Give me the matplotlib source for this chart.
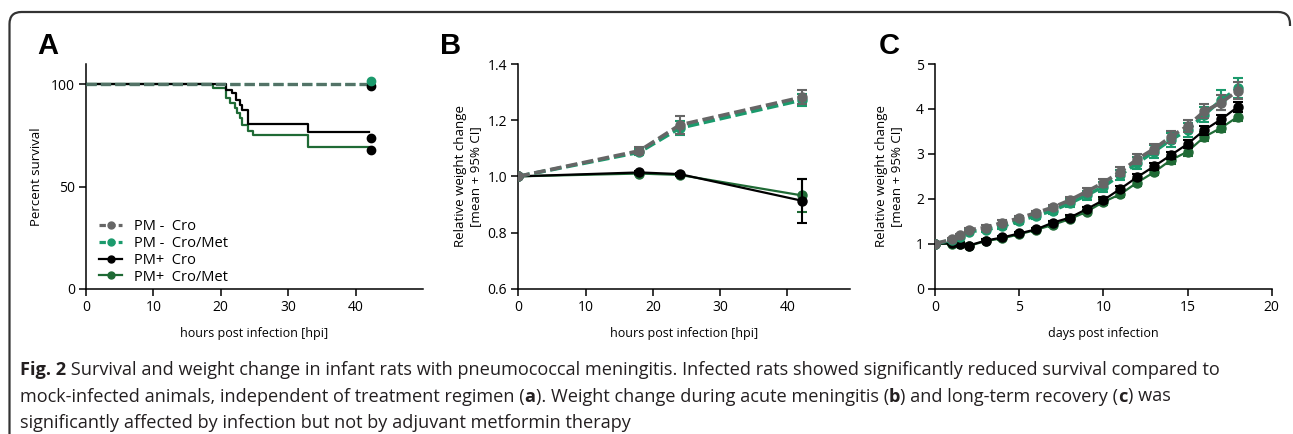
import matplotlib
matplotlib.use("Agg")
import matplotlib.pyplot as plt
from matplotlib.path import Path
from matplotlib.patches import PathPatch

plt.rcParams['font.family'] = ['Open Sans', 'DejaVu Sans']

GRAY = "#666666"
TEAL = "#1b9a6c"
DKGREEN = "#1f6a35"
BLACK = "#000000"

labels = ["PM -  Cro", "PM -  Cro/Met", "PM+  Cro", "PM+  Cro/Met"]

# panel A: survival (Kaplan-Meier steps)
surv_t_neg = [0, 42.0]
surv_neg = [100, 100]
surv_t_cro = [0, 20.8, 21.6, 22.2, 22.8, 23.2, 24.0, 32.9, 42.0]
surv_cro = [100, 97.1, 95.8, 92.2, 90.0, 87.3, 80.7, 76.5, 76.5]
surv_t_met = [0, 18.9, 20.8, 21.3, 22.1, 22.4, 22.8, 23.2, 24.0, 24.8, 32.9, 42.0]
surv_met = [100, 98.2, 93.3, 90.9, 88.4, 86.0, 83.5, 80.2, 77.0, 75.3, 69.6, 69.6]
end_x = [42.3, 42.3, 42.3, 42.3]
end_y = [99.0, 101.5, 73.7, 68.0]
end_col = [BLACK, TEAL, BLACK, BLACK]

# panel B: acute weight change
hpi = [0, 18, 24, 42.2]
b_neg_cro = [1.0, 1.091, 1.183, 1.282]
b_neg_cro_err = [0, 0.012, 0.032, 0.026]
b_neg_met = [1.0, 1.086, 1.172, 1.272]
b_neg_met_err = [0, 0.010, 0.025, 0.02]
b_pos_cro = [1.0, 1.014, 1.008, 0.913]
b_pos_cro_err = [0, 0.006, 0.005, 0.079]
b_pos_met = [1.0, 1.010, 1.005, 0.932]
b_pos_met_err = [0, 0.006, 0.005, 0.060]

# panel C: long-term weight change
days = [0, 1, 1.5, 2, 3, 4, 5, 6, 7, 8, 9, 10, 11, 12, 13, 14, 15, 16, 17, 18]
c_neg_cro = [1.0, 1.10, 1.19, 1.31, 1.36, 1.47, 1.57, 1.69, 1.81, 1.97, 2.16, 2.36,
             2.60, 2.88, 3.11, 3.38, 3.62, 3.95, 4.14, 4.41]
c_neg_cro_err = [0, 0.03, 0.03, 0.03, 0.05, 0.05, 0.05, 0.05, 0.06, 0.07, 0.08, 0.09,
                 0.10, 0.11, 0.12, 0.13, 0.14, 0.15, 0.16, 0.18]
c_neg_met = [1.0, 1.08, 1.16, 1.27, 1.31, 1.39, 1.51, 1.62, 1.74, 1.90, 2.08, 2.27,
             2.53, 2.79, 3.05, 3.31, 3.53, 3.87, 4.20, 4.46]
c_neg_met_err = [0, 0.03, 0.03, 0.03, 0.05, 0.06, 0.06, 0.07, 0.08, 0.09, 0.10, 0.11,
                 0.12, 0.13, 0.14, 0.15, 0.16, 0.17, 0.22, 0.22]
c_pos_cro = [1.0, 1.01, 1.00, 0.96, 1.07, 1.14, 1.23, 1.32, 1.47, 1.58, 1.77, 1.97,
             2.22, 2.48, 2.72, 2.97, 3.22, 3.53, 3.77, 4.05]
c_pos_cro_err = [0, 0.02, 0.02, 0.02, 0.03, 0.03, 0.04, 0.04, 0.04, 0.05, 0.05, 0.06,
                 0.06, 0.07, 0.07, 0.08, 0.09, 0.10, 0.10, 0.11]
c_pos_met = [1.0, 1.00, 0.99, 0.95, 1.06, 1.12, 1.21, 1.31, 1.42, 1.55, 1.71, 1.93,
             2.10, 2.36, 2.59, 2.86, 3.05, 3.38, 3.58, 3.83]
c_pos_met_err = [0, 0.02, 0.02, 0.02, 0.03, 0.03, 0.04, 0.04, 0.04, 0.05, 0.05, 0.06,
                 0.06, 0.07, 0.07, 0.08, 0.09, 0.10, 0.10, 0.10]

fig = plt.figure(figsize=(12.93, 4.34), dpi=100)
W, H = 1293, 434


def add_ax(l, t, r, b):
    return fig.add_axes([l / W, 1 - b / H, (r - l) / W, (b - t) / H])


def style(ax):
    for s in ["top", "right"]:
        ax.spines[s].set_visible(False)
    for s in ["left", "bottom"]:
        ax.spines[s].set_linewidth(1.1)
    ax.tick_params(direction="out", length=5, width=1.1, labelsize=10, pad=3)


dash = (3.2, 1.3)

# ---- A ----
axA = add_ax(86, 64, 423, 288.7)
style(axA)
axA.step(surv_t_met, surv_met, where="post", color=DKGREEN, lw=1.6, zorder=2)
axA.step(surv_t_cro, surv_cro, where="post", color=BLACK, lw=1.6, zorder=3)
axA.plot(surv_t_neg, surv_neg, color=TEAL, lw=2.3, dashes=dash, zorder=4)
axA.plot(surv_t_neg, surv_neg, color=GRAY, lw=2.3, dashes=dash, alpha=0.75, zorder=5)
for x, y, c in zip(end_x, end_y, end_col):
    axA.plot(x, y, "o", color=c, ms=6, zorder=6)
axA.set_xlim(0, 50)
axA.set_ylim(0, 110)
axA.set_xticks([0, 10, 20, 30, 40])
axA.set_yticks([0, 50, 100])
axA.set_xlabel("hours post infection [hpi]", fontsize=9, labelpad=9)
axA.set_ylabel("Percent survival", fontsize=9.5, labelpad=6)
hA = [
    axA.plot([], [], color=GRAY, lw=2.3, dashes=(2, 1), marker="o", ms=5)[0],
    axA.plot([], [], color=TEAL, lw=2.3, dashes=(2, 1), marker="o", ms=5)[0],
    axA.plot([], [], color=BLACK, lw=1.6, marker="o", ms=5)[0],
    axA.plot([], [], color=DKGREEN, lw=1.6, marker="o", ms=5)[0],
]
axA.legend(hA, labels, loc="lower left", bbox_to_anchor=(0.0, -0.04), frameon=False,
           fontsize=10.5, handlelength=1.6, handletextpad=0.8, labelspacing=0.12)


def weight_panel(ax, x, series):
    for y, e, c, dashed, z in series:
        kw = dict(color=c, marker="o", ms=6.5, capsize=3.5, elinewidth=1.5, capthick=1.5, zorder=z)
        if dashed:
            ax.errorbar(x, y, yerr=e, lw=2.6, dashes=dash, **kw)
        else:
            ax.errorbar(x, y, yerr=e, lw=1.6, **kw)


# ---- B ----
axB = add_ax(518.3, 64, 850, 288.7)
style(axB)
weight_panel(axB, hpi, [
    (b_pos_met, b_pos_met_err, DKGREEN, False, 2),
    (b_pos_cro, b_pos_cro_err, BLACK, False, 3),
    (b_neg_met, b_neg_met_err, TEAL, True, 4),
    (b_neg_cro, b_neg_cro_err, GRAY, True, 5),
])
axB.set_xlim(0, 49.3)
axB.set_ylim(0.6, 1.4)
axB.set_xticks([0, 10, 20, 30, 40])
axB.set_yticks([0.6, 0.8, 1.0, 1.2, 1.4])
axB.set_xlabel("hours post infection [hpi]", fontsize=9, labelpad=9)
axB.set_ylabel("Relative weight change\n[mean + 95% CI]", fontsize=9.5, labelpad=4, linespacing=1.25)

# ---- C ----
axC = add_ax(935, 64, 1271.7, 288.7)
style(axC)
weight_panel(axC, days, [
    (c_pos_met, c_pos_met_err, DKGREEN, False, 2),
    (c_pos_cro, c_pos_cro_err, BLACK, False, 3),
    (c_neg_met, c_neg_met_err, TEAL, True, 4),
    (c_neg_cro, c_neg_cro_err, GRAY, True, 5),
])
axC.set_xlim(0, 20)
axC.set_ylim(0, 5)
axC.set_xticks([0, 5, 10, 15, 20])
axC.set_yticks([0, 1, 2, 3, 4, 5])
axC.set_xlabel("days post infection", fontsize=9, labelpad=9)
axC.set_ylabel("Relative weight change\n[mean + 95% CI]", fontsize=9.5, labelpad=9, linespacing=1.25)

# panel letters
for letter, px in [("A", 37), ("B", 440), ("C", 879)]:
    fig.text(px / W, 1 - 54 / H, letter, fontsize=21, fontweight="bold",
             family=["Liberation Sans", "DejaVu Sans"])

# rounded frame (left, top, short right)
r = 12
x0, x1, y0, y1 = 9.5, 1290, 434, 12
verts = [(x0, y0), (x0, y1 + r), (x0, y1), (x0 + r, y1), (x1 - r, y1), (x1, y1), (x1, y1 + r), (x1, y1 + 14)]
codes = [Path.MOVETO, Path.LINETO, Path.CURVE3, Path.CURVE3, Path.LINETO, Path.CURVE3, Path.CURVE3, Path.LINETO]
verts = [(vx / W, 1 - vy / H) for vx, vy in verts]
fig.add_artist(PathPatch(Path(verts, codes), transform=fig.transFigure, fill=False,
                         lw=1.6, color="#333333", capstyle="butt"))

# caption with bold runs
caption = [
    [("Fig. 2", True), (" Survival and weight change in infant rats with pneumococcal meningitis. "
                        "Infected rats showed significantly reduced survival compared to", False)],
    [("mock-infected animals, independent of treatment regimen (", False), ("a", True),
     ("). Weight change during acute meningitis (", False), ("b", True),
     (") and long-term recovery (", False), ("c", True), (") was", False)],
    [("significantly affected by infection but not by adjuvant metformin therapy", False)],
]
renderer = fig.canvas.get_renderer()
for i, line in enumerate(caption):
    x = 20
    y = 370 + i * 26.5
    for txt, bold in line:
        t = fig.text(x / W, 1 - y / H, txt, fontsize=13.1, color="#231f20", va="center",
                     fontweight="bold" if bold else "normal")
        bb = t.get_window_extent(renderer)
        x += bb.width

fig.savefig("out.png", dpi=100)
